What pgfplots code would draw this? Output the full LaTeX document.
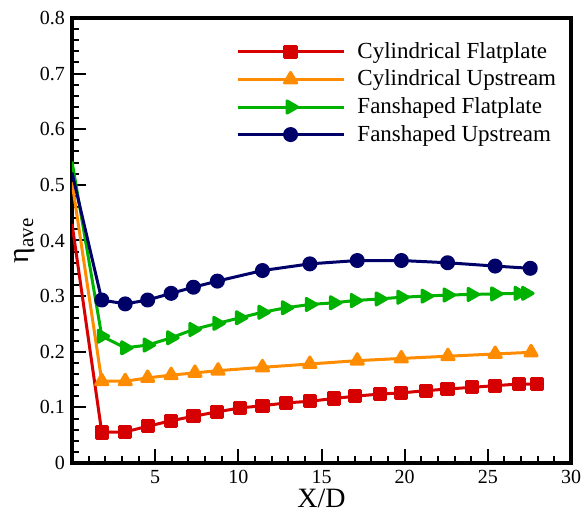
\documentclass[border=0pt]{standalone}
\usepackage{fontspec}
\setmainfont{Liberation Serif}
\usepackage{pgfplots}
\pgfplotsset{compat=1.18}

\definecolor{cfred}{RGB}{214,0,0}
\definecolor{cuorange}{RGB}{255,140,0}
\definecolor{ffgreen}{RGB}{0,178,0}
\definecolor{funavy}{RGB}{0,0,105}

\begin{document}
\begin{tikzpicture}
\begin{axis}[
    name=ax,
    scale only axis,
    width=249.5pt, height=222.5pt,
    xmin=0, xmax=30, ymin=0, ymax=0.8,
    xtick={0,5,...,30}, xticklabels={,5,10,15,20,25,30},
    ytick={0,0.1,...,0.8},
    minor x tick num=4, minor y tick num=4,
    tick pos=left, tick align=inside,
    major tick length=7pt, minor tick length=3.5pt,
    every tick/.style={black, line width=1pt},
    axis line style={line width=1.6pt},
    /pgf/number format/assume math mode=true,
    ticklabel style={font=\fontsize{10}{12}\selectfont},
    yticklabel style={/pgf/number format/fixed},
    xlabel={X/D}, ylabel={η\textsubscript{ave}},
    xlabel style={font=\fontsize{14}{17}\selectfont, inner sep=0pt, yshift=0.8pt},
    ylabel style={font=\fontsize{15}{18}\selectfont, yshift=-4.5pt},
    legend cell align=left,
    legend style={draw=none, fill=none, inner sep=0pt, row sep=0.3pt,
        at={(0.979,0.955)}, anchor=north east,
        font=\fontsize{11.5}{13.5}\selectfont},
    legend image code/.code={\draw[mark repeat=2,mark phase=2]
        plot coordinates {(0pt,0pt) (26.5pt,0pt) (53pt,0pt)};
        \path (57.2pt,0pt);},
    every axis plot/.append style={line width=1.5pt, line join=round},
]
\addplot[cfred, mark=square*, mark size=2.8pt, mark options={solid}] coordinates {
    (1.79,0.055) (3.2,0.056) (4.55,0.066) (5.96,0.076) (7.3,0.084)
    (8.74,0.092) (10.1,0.099) (11.45,0.103) (12.86,0.108) (14.3,0.111)
    (15.75,0.116) (17.0,0.120) (18.5,0.124) (19.8,0.126) (21.26,0.130)
    (22.58,0.133) (24.03,0.136) (25.44,0.139) (26.85,0.142) (27.96,0.142)
};
\addlegendentry{Cylindrical Flatplate}
\addplot[cuorange, mark=triangle*, mark size=3.5pt, mark options={solid}] coordinates {
    (1.79,0.147) (3.2,0.147) (4.55,0.153) (5.96,0.158) (7.39,0.162)
    (8.78,0.166) (11.45,0.172) (14.3,0.178) (17.15,0.184) (19.8,0.188)
    (22.6,0.192) (25.44,0.196) (27.6,0.199)
};
\addlegendentry{Cylindrical Upstream}
\addplot[ffgreen, mark=triangle*, mark size=3.5pt, mark options={solid, rotate=-90}] coordinates {
    (1.79,0.228) (3.2,0.207) (4.55,0.212) (5.96,0.225) (7.3,0.240)
    (8.74,0.251) (10.1,0.261) (11.45,0.271) (12.86,0.279) (14.3,0.285)
    (15.75,0.288) (17.0,0.292) (18.5,0.295) (19.8,0.298) (21.26,0.300)
    (22.58,0.302) (24.03,0.303) (25.44,0.304) (26.85,0.305) (27.3,0.305)
};
\addlegendentry{Fanshaped Flatplate}
\addplot[funavy, mark=*, mark size=3pt, mark options={solid}] coordinates {
    (1.79,0.293) (3.2,0.286) (4.55,0.293) (5.96,0.305) (7.3,0.316)
    (8.74,0.327) (11.45,0.346) (14.3,0.358) (17.15,0.364) (19.8,0.364)
    (22.58,0.360) (25.44,0.354) (27.55,0.350)
};
\addlegendentry{Fanshaped Upstream}
% first segments from X/D = 0, drawn without marks
\addplot[cfred, forget plot] coordinates {(0,0.43) (1.79,0.055)};
\addplot[cuorange, forget plot] coordinates {(0,0.505) (1.79,0.147)};
\addplot[ffgreen, forget plot] coordinates {(0,0.542) (1.79,0.228)};
\addplot[funavy, forget plot] coordinates {(0,0.522) (1.79,0.293)};
\end{axis}
% page frame with the reference's margins round the axis box
\pgfresetboundingbox
\path ([xshift=-36pt,yshift=-25pt]ax.south west) rectangle ([xshift=5.5pt,yshift=9pt]ax.north east);
\end{tikzpicture}
\end{document}
